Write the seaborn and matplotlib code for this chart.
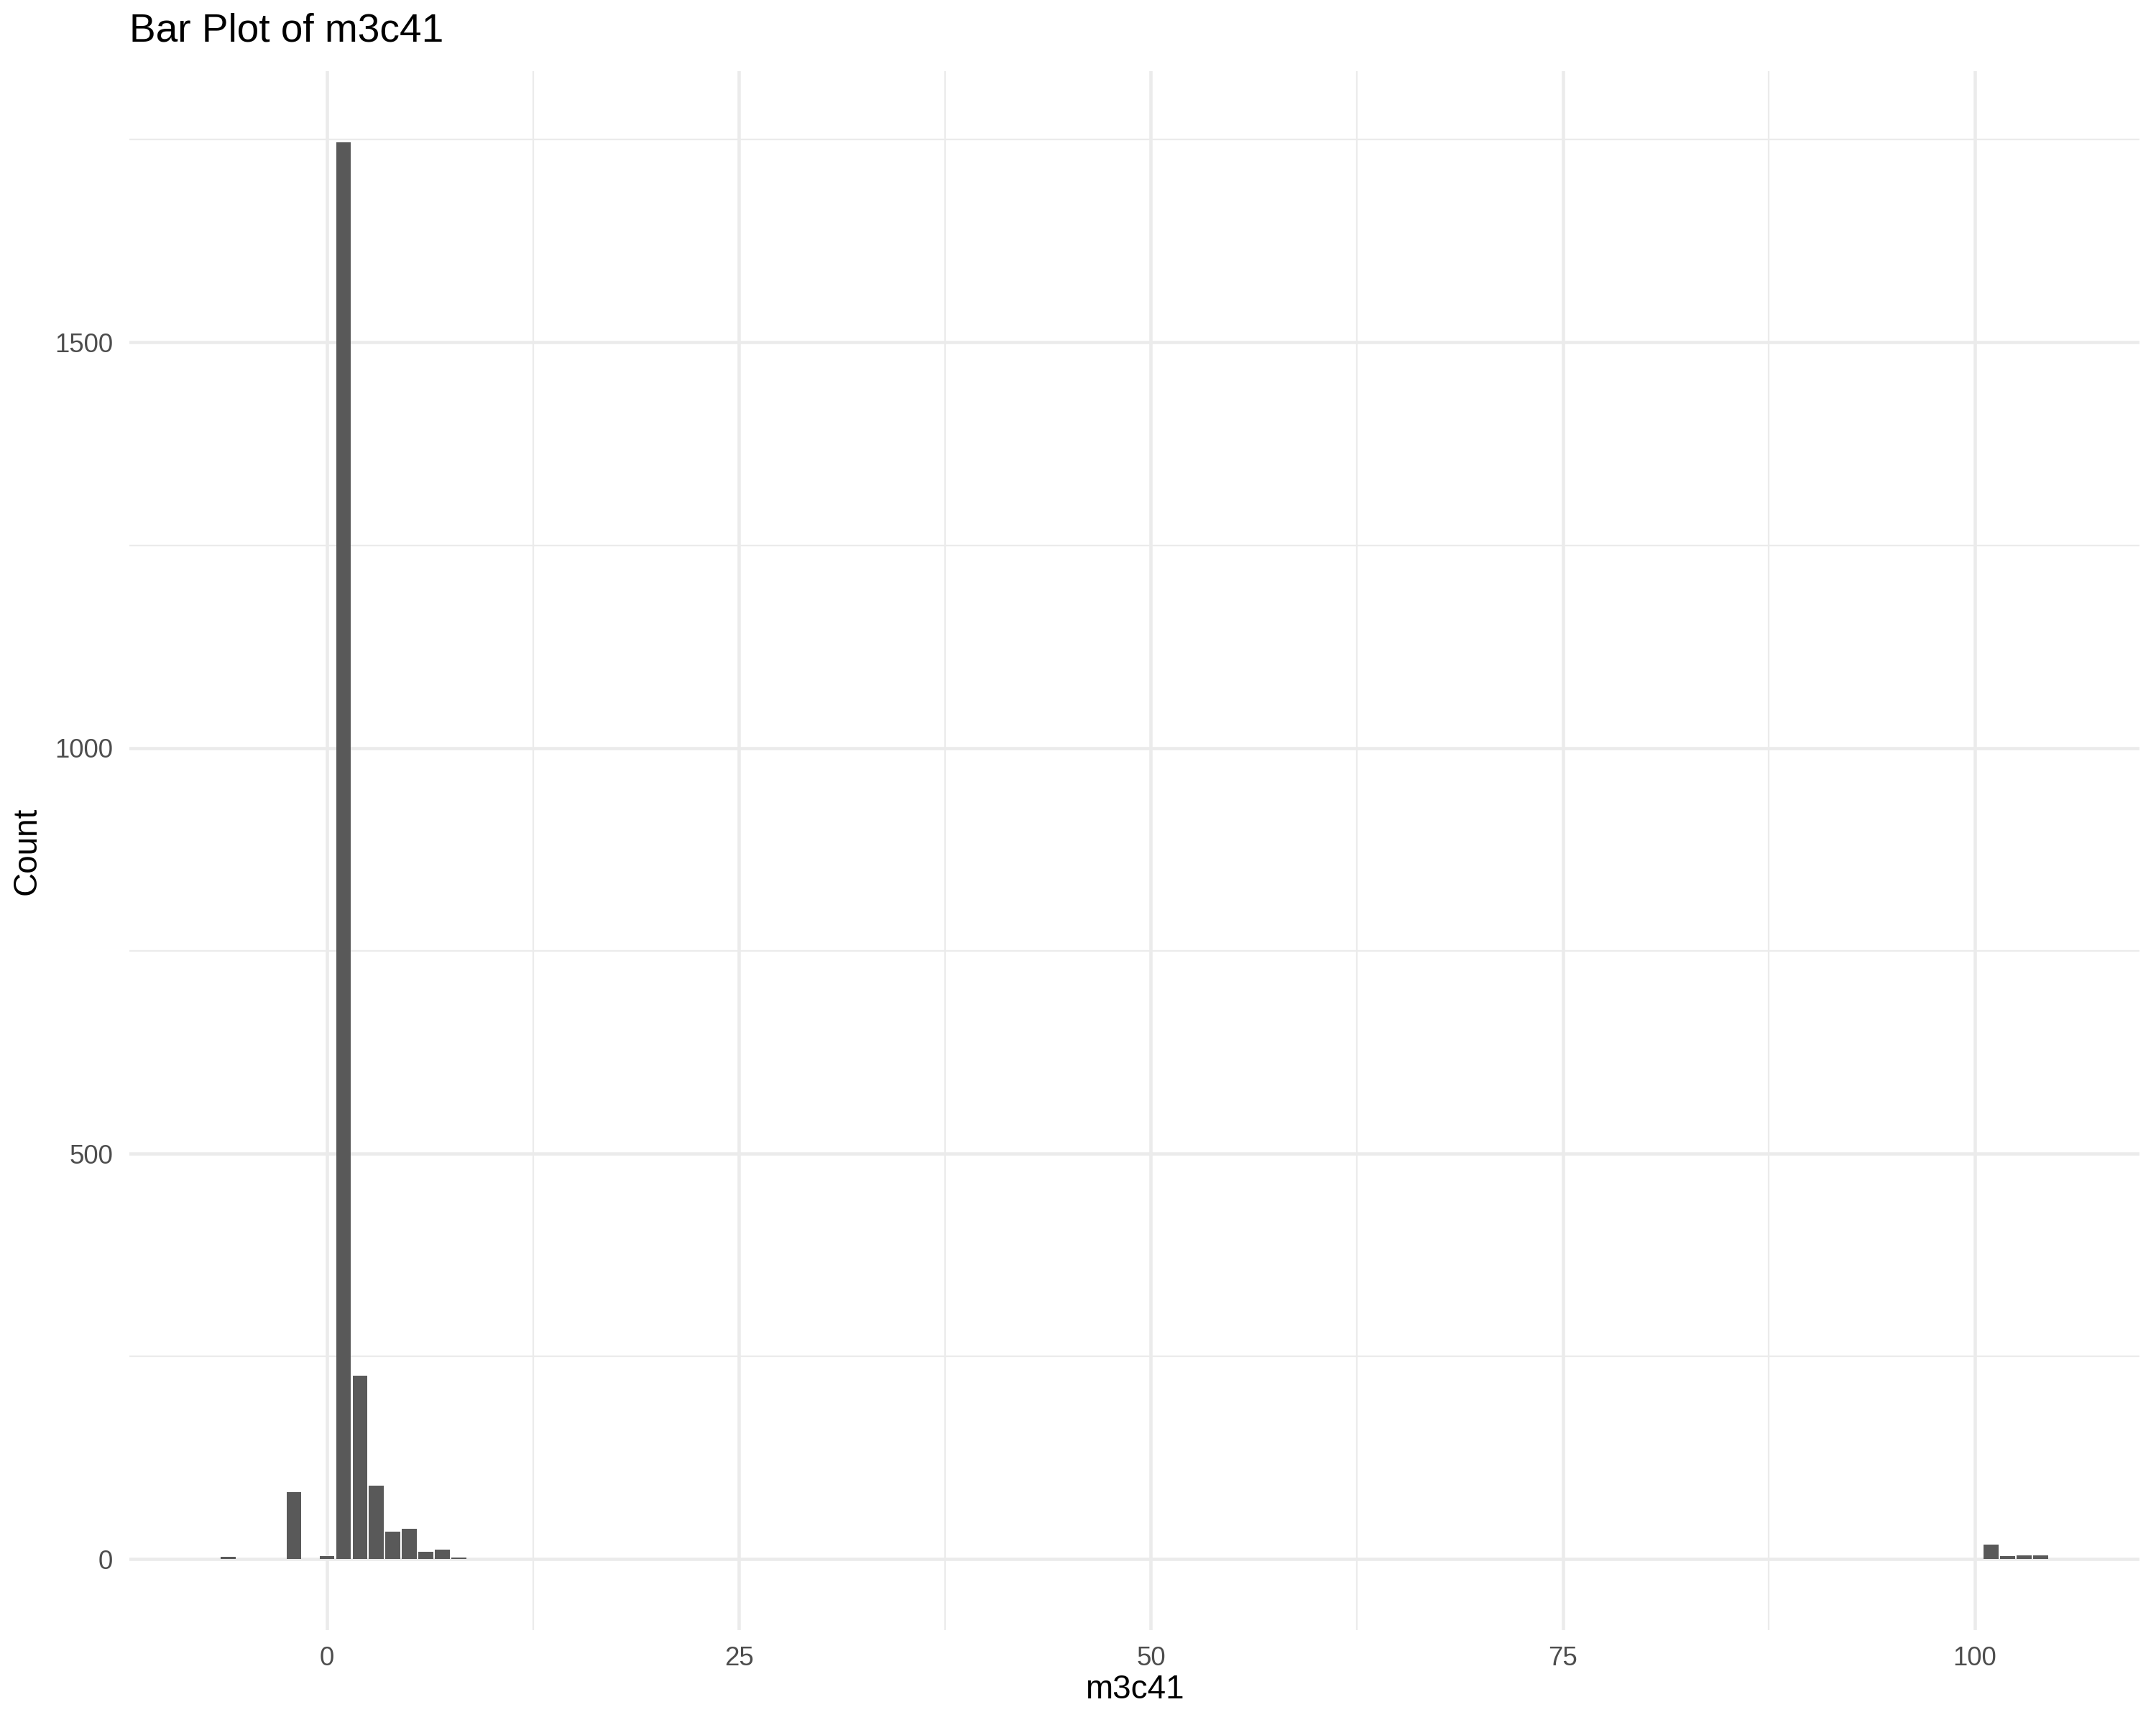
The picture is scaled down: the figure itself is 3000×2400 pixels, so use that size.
import matplotlib
matplotlib.use('Agg')
import matplotlib.pyplot as plt
from matplotlib.ticker import FixedLocator
import seaborn as sns
import pandas as pd

# ---- data ----
values = [-6, -2, 0, 1, 2, 3, 4, 5, 6, 7, 8, 101, 102, 103, 104]
counts = [3, 83, 4, 1747, 226, 91, 34, 38, 9, 12, 2, 18, 4, 5, 5]
x_ticks = [0, 25, 50, 75, 100]
x_minor = [12.5, 37.5, 62.5, 87.5]
y_ticks = [0, 500, 1000, 1500]
y_minor = [250, 750, 1250, 1750]
title = "Bar Plot of m3c41"
xlabel = "m3c41"
ylabel = "Count"

sns.set_theme(style='white')
plt.rcParams['font.family'] = ['Liberation Sans', 'DejaVu Sans']

W, H = 3000, 2400
fig = plt.figure(figsize=(10, 8), dpi=300)
left, right, top, bottom = 180, 2977, 99, 2268
ax = fig.add_axes([left / W, 1 - bottom / H, (right - left) / W, (bottom - top) / H])

df = pd.DataFrame({'value': values, 'count': counts})
sns.barplot(data=df, x='value', y='count', native_scale=True, width=0.9,
            color='#595959', saturation=1, linewidth=0, ax=ax)

# ggplot-like expansion
xmin = min(values) - 0.45
xmax = max(values) + 0.45
xr = xmax - xmin
ax.set_xlim(xmin - 0.05 * xr, xmax + 0.05 * xr)
ymax = max(counts)
ax.set_ylim(-0.05 * ymax, ymax * 1.05)

ax.xaxis.set_major_locator(FixedLocator(x_ticks))
ax.xaxis.set_minor_locator(FixedLocator(x_minor))
ax.yaxis.set_major_locator(FixedLocator(y_ticks))
ax.yaxis.set_minor_locator(FixedLocator(y_minor))
ax.set_xticklabels([str(t) for t in x_ticks])
ax.set_yticklabels([str(t) for t in y_ticks])

ax.set_axisbelow(True)
ax.grid(which='major', color='#EBEBEB', linewidth=1.1)
ax.grid(which='minor', color='#EBEBEB', linewidth=0.55)
for s in ax.spines.values():
    s.set_visible(False)
ax.tick_params(which='both', length=0)
ax.tick_params(axis='x', pad=5.3, labelsize=8.8, labelcolor='#4D4D4D')
ax.tick_params(axis='y', pad=5.5, labelsize=8.8, labelcolor='#4D4D4D')

ph = bottom - top
pw = right - left
ax.set_xlabel(xlabel, fontsize=11, color='black', va='center')
ax.xaxis.set_label_coords(0.5, -(2351 - bottom) / ph)
ax.set_ylabel(ylabel, fontsize=11, color='black', va='center')
ax.yaxis.set_label_coords((38 - left) / pw, 0.5)

ax.set_title(title, loc='left', fontsize=13.2, y=(bottom - 44) / ph, pad=0,
             va='center', color='black')

fig.savefig('out.png', dpi=300, facecolor='white')
